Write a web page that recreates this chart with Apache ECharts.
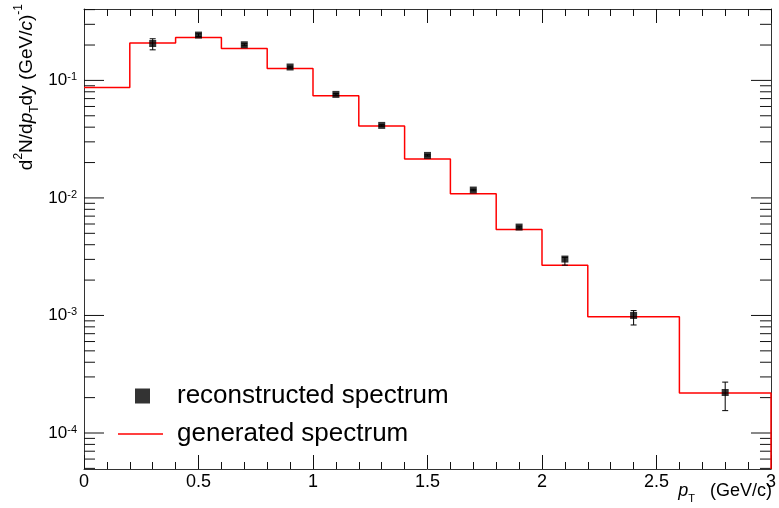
<!DOCTYPE html>
<html><head><meta charset="utf-8">
<script src="https://cdn.jsdelivr.net/npm/echarts@6/dist/echarts.min.js"></script>
<style>html,body{margin:0;padding:0;background:#fff}#c{width:779px;height:508px}</style>
</head><body><div id="c"></div>
<script>
// ---- data ----
const binEdges = [0, 0.2, 0.4, 0.6, 0.8, 1.0, 1.2, 1.4, 1.6, 1.8, 2.0, 2.2, 2.6, 3.0];
const generatedValues = [0.0872, 0.208, 0.232, 0.187, 0.126, 0.0741, 0.0409, 0.0214, 0.01086, 0.0054, 0.00268, 0.000975, 0.000219];
const recoX = [0.3, 0.5, 0.7, 0.9, 1.1, 1.3, 1.5, 1.7, 1.9, 2.1, 2.4, 2.8];
const recoValues = [0.206, 0.243, 0.201, 0.130, 0.076, 0.0414, 0.0230, 0.01167, 0.00565, 0.00302, 0.00100, 0.000221];
const recoErrLow = [0.182, 0.237, 0.197, 0.128, 0.0748, 0.0408, 0.0227, 0.01150, 0.00555, 0.00268, 0.00083, 0.000155];
const recoErrHigh = [0.226, 0.249, 0.205, 0.132, 0.0772, 0.0420, 0.0233, 0.01184, 0.00575, 0.00312, 0.00110, 0.000271];
const xTickLabels = [0, 0.5, 1, 1.5, 2, 2.5, 3];
const yMajorTicks = [1e-4, 1e-3, 1e-2, 1e-1];
const xMin = 0, xMax = 3;
const yMin = 4.94e-5, yMax = 0.405;

// ---- derived ----
const yMinorTicks = [];
for (let e = -5; e <= -1; e++) for (let m = 2; m <= 9; m++) {
  const v = m * Math.pow(10, e);
  if (v > yMin && v < yMax) yMinorTicks.push(v);
}
const histData = [];
generatedValues.forEach((v, i) => { histData.push([binEdges[i], v]); histData.push([binEdges[i + 1], v]); });
histData.push([binEdges[binEdges.length - 1], yMin]);
const recoData = recoX.map((x, i) => [x, recoValues[i]]);
const errData = recoX.map((x, i) => [x, recoErrLow[i], recoErrHigh[i]]);

const FONT = 'Liberation Sans';
const axisLine = { show: true, onZero: false, lineStyle: { color: '#333', width: 1 } };

function yAxisCfg(pos, showLabel) {
  return {
    type: 'log', logBase: 10, min: yMin, max: yMax, position: pos,
    axisLine: axisLine,
    axisTick: { show: false },
    axisLabel: {
      show: showLabel, customValues: yMajorTicks, margin: 7,
      fontFamily: FONT, fontSize: 17, color: '#000', lineHeight: 17,
      formatter: v => '10{sup|' + Math.round(Math.log10(v)) + '}',
      rich: { sup: { fontFamily: FONT, fontSize: 11, lineHeight: 11, verticalAlign: 'top', color: '#000' } }
    },
    splitLine: { show: false }, minorTick: { show: false }
  };
}
function xAxisCfg(pos, showLabel) {
  return {
    type: 'value', min: xMin, max: xMax, interval: 0.5, position: pos,
    axisLine: axisLine,
    axisTick: { show: true, inside: true, length: 14, lineStyle: { color: '#111' } },
    minorTick: { show: true, splitNumber: 5, length: 7, lineStyle: { color: '#111' } },
    axisLabel: {
      show: showLabel, margin: 4, fontFamily: FONT, fontSize: 18, color: '#000',
      customValues: xTickLabels,
      formatter: v => String(v)
    },
    splitLine: { show: false }
  };
}
function tickSeries(values, len) {
  return {
    type: 'custom', silent: true, xAxisIndex: 0, yAxisIndex: 0, z: 1,
    data: values.map(v => [xMin, v]),
    renderItem: (params, api) => {
      const v = api.value(1);
      const l = api.coord([xMin, v]);
      const r = api.coord([xMax, v]);
      const st = { stroke: '#111', lineWidth: 1 };
      return { type: 'group', children: [
        { type: 'line', shape: { x1: l[0], y1: l[1], x2: l[0] + len, y2: l[1] }, style: st },
        { type: 'line', shape: { x1: r[0], y1: r[1], x2: r[0] - len, y2: r[1] }, style: st }
      ] };
    }
  };
}

const chart = echarts.init(document.getElementById('c'));
chart.setOption({
  animation: false,
  backgroundColor: '#fff',
  grid: { left: 84, right: 7, top: 9, bottom: 39, containLabel: false },
  xAxis: [xAxisCfg('bottom', true), xAxisCfg('top', false)],
  yAxis: [yAxisCfg('left', true), yAxisCfg('right', false)],
  legend: [
    { data: [{ name: 'reconstructed spectrum', icon: 'rect' }], left: 135, top: 383, padding: 0,
      itemWidth: 15, itemHeight: 15, selectedMode: false,
      textStyle: { fontFamily: FONT, fontSize: 26, color: '#000', padding: [0, 0, 0, 22] } },
    { data: [{ name: 'generated spectrum', icon: 'rect' }], left: 118, top: 421, padding: 0,
      itemWidth: 45, itemHeight: 1.5, selectedMode: false,
      textStyle: { fontFamily: FONT, fontSize: 26, color: '#000', padding: [0, 0, 0, 9] } }
  ],
  graphic: [
    { type: 'text', x: 27, y: 4, rotation: Math.PI / 2, silent: true,
      style: { text: 'd{sup|2}N/d{it|p}{sub|T}dy (GeV/{it|c}){sup|-1}', fontFamily: FONT, fontSize: 19,
        fill: '#000', align: 'right', verticalAlign: 'middle', lineHeight: 28,
        rich: {
          sup: { fontFamily: FONT, fontSize: 12, lineHeight: 12, verticalAlign: 'top', fill: '#000' },
          sub: { fontFamily: FONT, fontSize: 12, lineHeight: 12, verticalAlign: 'bottom', fill: '#000' },
          it: { fontFamily: FONT, fontSize: 19, fontStyle: 'italic', fill: '#000' }
        } } },
    { type: 'text', x: 772, y: 491, silent: true,
      style: { text: '{it|p}{sub|T}   (GeV/c)', fontFamily: FONT, fontSize: 18, fill: '#000',
        align: 'right', verticalAlign: 'middle', lineHeight: 26,
        rich: {
          sub: { fontFamily: FONT, fontSize: 11, lineHeight: 11, verticalAlign: 'bottom', fill: '#000' },
          it: { fontFamily: FONT, fontSize: 18, fontStyle: 'italic', fill: '#000' }
        } } }
  ],
  series: [
    tickSeries(yMajorTicks, 20),
    tickSeries(yMinorTicks, 11),
    { name: 'generated spectrum', type: 'line', data: histData, xAxisIndex: 0, yAxisIndex: 0,
      symbol: 'none', lineStyle: { color: '#ff0000', width: 1.5 }, itemStyle: { color: '#ff0000' }, z: 2 },
    { name: 'errors', type: 'custom', data: errData, xAxisIndex: 0, yAxisIndex: 0, z: 3,
      renderItem: (params, api) => {
        const lo = api.coord([api.value(0), api.value(1)]);
        const hi = api.coord([api.value(0), api.value(2)]);
        const w = 3;
        const st = { stroke: '#000', lineWidth: 1 };
        return { type: 'group', children: [
          { type: 'line', shape: { x1: lo[0], y1: lo[1], x2: hi[0], y2: hi[1] }, style: st },
          { type: 'line', shape: { x1: lo[0] - w, y1: lo[1], x2: lo[0] + w, y2: lo[1] }, style: st },
          { type: 'line', shape: { x1: hi[0] - w, y1: hi[1], x2: hi[0] + w, y2: hi[1] }, style: st }
        ] };
      } },
    { name: 'reconstructed spectrum', type: 'scatter', data: recoData, xAxisIndex: 0, yAxisIndex: 0,
      symbol: 'rect', symbolSize: 7, itemStyle: { color: '#000' }, z: 4 }
  ]
});
</script>
</body></html>
